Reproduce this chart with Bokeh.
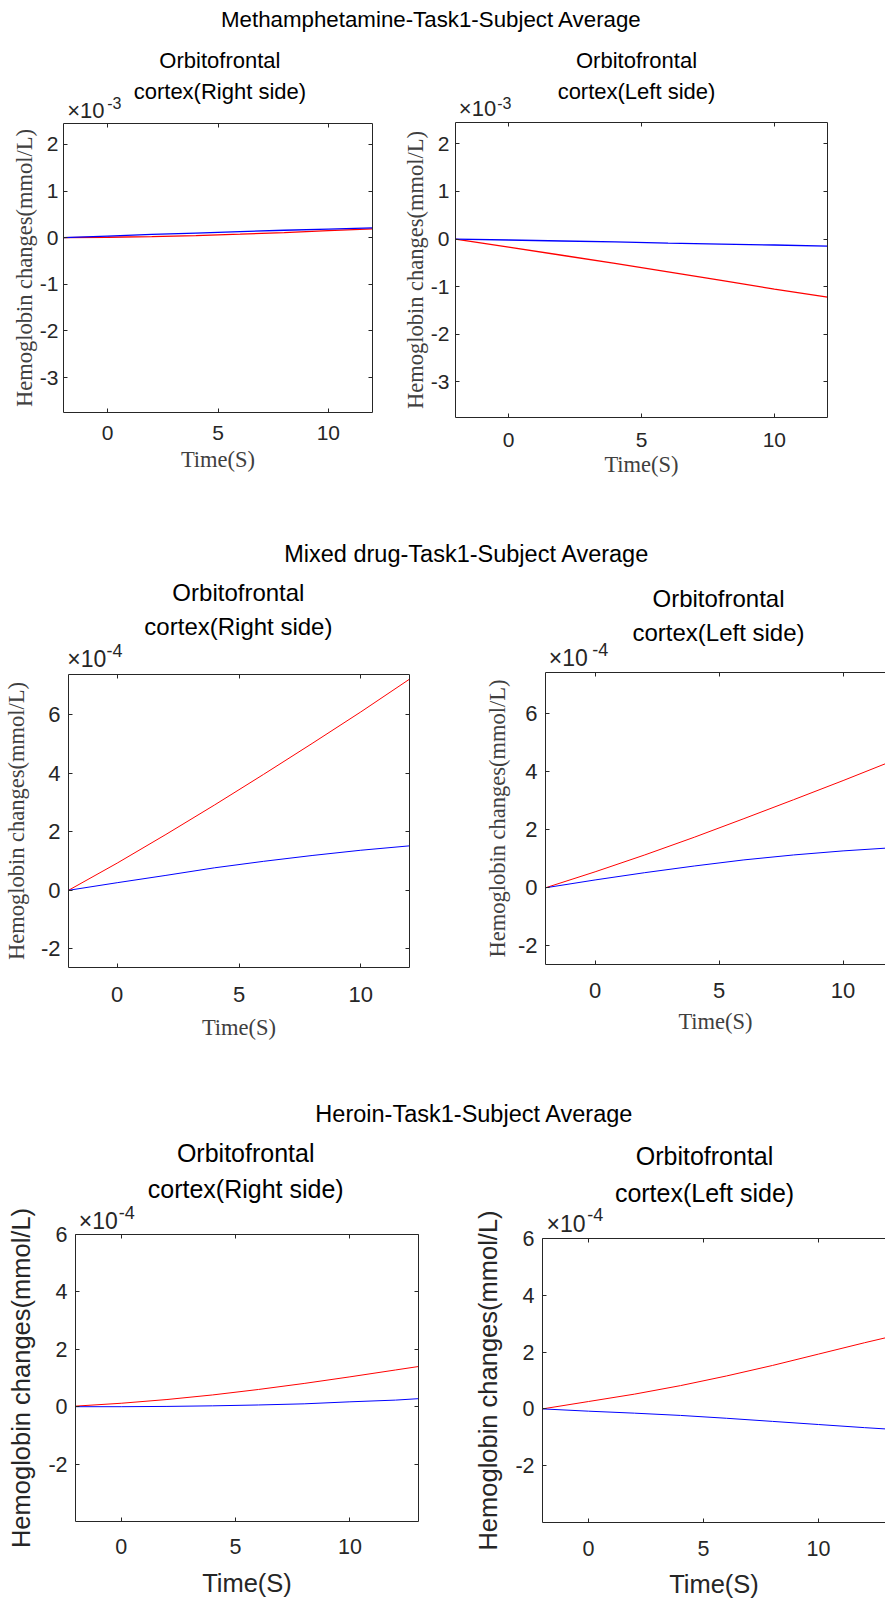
from bokeh.plotting import figure
from bokeh.models import Range1d, FixedTicker, LinearAxis
from bokeh.layouts import column, row
from bokeh.embed import file_html
from bokeh.resources import INLINE
from bokeh.core.properties import value

SANS = "Liberation Sans"
SERIF = "Liberation Serif"
INK = "#262626"
K_MID = 0.3465  # (ascent - descent)/2 in em, to place text by its baseline

# ---------------- data ----------------
time_a = [-2, 0, 2, 4, 6, 8, 10, 12]
time_b = [-2, 0, 2, 4, 6, 8, 10, 12, 13]

# Methamphetamine, values in units of 1e-3 mmol/L
meth_right_red = [0, 0.01, 0.025, 0.045, 0.075, 0.11, 0.15, 0.19]
meth_right_blue = [0, 0.035, 0.07, 0.10, 0.13, 0.16, 0.185, 0.21]
meth_left_red = [0, -0.17, -0.34, -0.51, -0.69, -0.87, -1.05, -1.22]
meth_left_blue = [0, -0.02, -0.04, -0.06, -0.085, -0.105, -0.125, -0.15]

# Mixed drug, values in units of 1e-4 mmol/L
mixed_right_red = [0, 0.93, 1.91, 2.92, 3.96, 5.02, 6.10, 7.22]
mixed_right_blue = [0, 0.26, 0.51, 0.77, 0.99, 1.19, 1.37, 1.52]
mixed_left_red = [0, 0.55, 1.13, 1.74, 2.38, 3.03, 3.69, 4.37]
mixed_left_blue = [0, 0.27, 0.52, 0.75, 0.96, 1.13, 1.27, 1.38]

# Heroin, values in units of 1e-4 mmol/L
heroin_right_red = [0.02, 0.12, 0.25, 0.41, 0.60, 0.81, 1.04, 1.28, 1.40]
heroin_right_blue = [0, 0.0, 0.01, 0.03, 0.06, 0.10, 0.17, 0.23, 0.28]
heroin_left_red = [0, 0.26, 0.52, 0.82, 1.16, 1.53, 1.93, 2.33, 2.52]
heroin_left_blue = [0, -0.08, -0.15, -0.23, -0.33, -0.44, -0.55, -0.66, -0.71]

group_titles = ["Methamphetamine-Task1-Subject Average",
                "Mixed drug-Task1-Subject Average",
                "Heroin-Task1-Subject Average"]
sub_right = ["Orbitofrontal", "cortex(Right side)"]
sub_left = ["Orbitofrontal", "cortex(Left side)"]
y_label = "Hemoglobin changes(mmol/L)"
x_label = "Time(S)"
x_ticks = [0, 5, 10]
y_ticks_meth = [-3, -2, -1, 0, 1, 2]
y_ticks_other = [-2, 0, 2, 4, 6]

# ---------------- layout (page pixel geometry) ----------------
PANELS = [
    dict(x0=0, w=392, y0=119, h=401, fl=63, fr=372, ft=123, fb=412,
         xr=(-2, 12), yr=(-3.75, 2.45), yt=y_ticks_meth,
         t=time_a, red=meth_right_red, blue=meth_right_blue,
         tsz=21, yts=5, xts=13, lf=SERIF, lsz=22.5, lc="#404040",
         yls=0, xls=4, cut=False, lw=1.3),
    dict(x0=392, w=493, y0=119, h=401, fl=455, fr=827, ft=122, fb=417,
         xr=(-2, 12), yr=(-3.75, 2.45), yt=y_ticks_meth,
         t=time_a, red=meth_left_red, blue=meth_left_blue,
         tsz=21, yts=6, xts=15, lf=SERIF, lsz=22.5, lc="#404040",
         yls=0, xls=2, cut=False, lw=1.3),
    dict(x0=0, w=440, y0=669, h=416, fl=62, fr=409, ft=674, fb=967,
         xr=(-2, 12), yr=(-2.64, 7.38), yt=y_ticks_other,
         t=time_a, red=mixed_right_red, blue=mixed_right_blue,
         tsz=22, yts=8, xts=19, lf=SERIF, lsz=22.5, lc="#404040",
         yls=9, xls=10, cut=False, lw=1.0),
    dict(x0=440, w=445, y0=669, h=416, fl=545, fr=885, ft=672, fb=964,
         xr=(-2, 11.71), yr=(-2.64, 7.41), yt=y_ticks_other,
         t=time_a, red=mixed_left_red, blue=mixed_left_blue,
         tsz=22, yts=8, xts=18, lf=SERIF, lsz=22.5, lc="#404040",
         yls=5, xls=8, cut=True, lw=1.0),
    dict(x0=0, w=440, y0=1200, h=400, fl=75, fr=418, ft=1234, fb=1521,
         xr=(-2, 13), yr=(-4, 6), yt=y_ticks_other,
         t=time_b, red=heroin_right_red, blue=heroin_right_blue,
         tsz=21.5, yts=8, xts=17, lf=SANS, lsz=25.5, lc=INK,
         yls=10, xls=12, cut=False, lw=1.0),
    dict(x0=440, w=445, y0=1200, h=400, fl=542, fr=885, ft=1238, fb=1523,
         xr=(-2, 12.91), yr=(-4, 6), yt=y_ticks_other,
         t=time_b, red=heroin_left_red, blue=heroin_left_blue,
         tsz=21.5, yts=8, xts=18, lf=SANS, lsz=25.5, lc=INK,
         yls=10, xls=11, cut=True, lw=1.0),
]

# texts above the frames: (text, x, baseline, size, align, color)
STRIPS = [
    dict(top=0, h=124, items=[
        (group_titles[0], 431, 26.7, 22.3, "center", "black"),
        (sub_right[0], 219.4, 67.7, 22, "center", "black"),
        (sub_right[1], 219.4, 98.3, 22, "center", "black"),
        (sub_left[0], 636, 67.7, 22, "center", "black"),
        (sub_left[1], 636, 98.3, 22, "center", "black"),
        ("\u00d710", 66.7, 117.7, 22, "left", INK),
        ("-3", 106.7, 108.3, 16, "left", INK),
        ("\u00d710", 458.3, 116.0, 22, "left", INK),
        ("-3", 496.7, 108.3, 16, "left", INK),
    ]),
    dict(top=520, h=153, items=[
        (group_titles[1], 466.4, 562, 23.5, "center", "black"),
        (sub_right[0], 237.9, 600.7, 24, "center", "black"),
        (sub_right[1], 237.9, 634.0, 24, "center", "black"),
        (sub_left[0], 718, 606.7, 24, "center", "black"),
        (sub_left[1], 718, 640.7, 24, "center", "black"),
        ("\u00d710", 66.7, 666.7, 23, "left", INK),
        ("-4", 106.0, 656.7, 18, "left", INK),
        ("\u00d710", 548.3, 665.0, 23, "left", INK),
        ("-4", 591.7, 655.0, 18, "left", INK),
    ]),
    dict(top=1085, h=152, items=[
        (group_titles[2], 474, 1121.7, 23.5, "center", "black"),
        (sub_right[0], 245.2, 1161.0, 25, "center", "black"),
        (sub_right[1], 245.2, 1197.3, 25, "center", "black"),
        (sub_left[0], 704, 1164.3, 25, "center", "black"),
        (sub_left[1], 704, 1200.7, 25, "center", "black"),
        ("\u00d710", 78.3, 1228.3, 23, "left", INK),
        ("-4", 118.3, 1218.3, 18, "left", INK),
        ("\u00d710", 546.0, 1231.0, 23, "left", INK),
        ("-4", 586.7, 1220.0, 18, "left", INK),
    ]),
]


def style_axis(ax, ticks, tsz, standoff):
    ax.ticker = FixedTicker(ticks=ticks)
    ax.major_label_overrides = {float(t): "%g" % t for t in ticks}
    ax.minor_tick_line_color = None
    ax.major_tick_in = 4
    ax.major_tick_out = 0
    ax.axis_line_color = INK
    ax.axis_line_width = 1
    ax.major_tick_line_color = INK
    ax.major_label_text_font = SANS
    ax.major_label_text_font_size = f"{tsz}px"
    ax.major_label_text_color = INK
    ax.major_label_standoff = int(standoff)


def blank_axis(ticks):
    ax = LinearAxis(ticker=FixedTicker(ticks=ticks))
    ax.major_label_text_font_size = "0px"
    ax.major_label_text_color = None
    ax.major_label_standoff = 0
    ax.minor_tick_line_color = None
    ax.major_tick_in = 4
    ax.major_tick_out = 0
    ax.axis_line_color = INK
    ax.major_tick_line_color = INK
    return ax


def make_panel(P):
    p = figure(width=P["w"], height=P["h"],
               x_range=Range1d(*P["xr"]), y_range=Range1d(*P["yr"]),
               toolbar_location=None, output_backend="svg", title=None,
               frame_align=False,
               min_border_left=P["fl"] - P["x0"],
               min_border_right=P["x0"] + P["w"] - P["fr"],
               min_border_top=P["ft"] - P["y0"],
               min_border_bottom=P["y0"] + P["h"] - P["fb"],
               background_fill_color="white", border_fill_color=None,
               outline_line_color=None)
    p.xgrid.visible = False
    p.ygrid.visible = False

    xa = p.xaxis[0]
    ya = p.yaxis[0]
    style_axis(xa, x_ticks, P["tsz"], P["xts"])
    style_axis(ya, P["yt"], P["tsz"], P["yts"])
    for ax, lbl, so in ((xa, x_label, P["xls"]), (ya, y_label, P["yls"])):
        ax.axis_label = lbl
        ax.axis_label_text_font = P["lf"]
        ax.axis_label_text_font_size = f"{P['lsz']}px"
        ax.axis_label_text_font_style = "normal"
        ax.axis_label_text_color = P["lc"]
        ax.axis_label_standoff = int(so)

    p.add_layout(blank_axis(x_ticks), "above")
    if not P["cut"]:
        p.add_layout(blank_axis(P["yt"]), "right")

    p.line(P["t"], P["red"], line_color="#ff0000", line_width=P["lw"])
    p.line(P["t"], P["blue"], line_color="#0000ff", line_width=P["lw"])
    return p


def make_strip(S):
    top, h = S["top"], S["h"]
    s = figure(width=885, height=h, x_range=Range1d(0, 885),
               y_range=Range1d(top + h, top),
               toolbar_location=None, output_backend="svg", min_border=0,
               frame_align=False,
               x_axis_type=None, y_axis_type=None, outline_line_color=None, title=None,
               background_fill_color="white", border_fill_color="white")
    for txt, x, base, fs, align, color in S["items"]:
        s.text(x=[x], y=[base - K_MID * fs], text=[txt], text_font=value(SANS),
               text_font_size=f"{fs}px", text_align=align,
               text_baseline="middle", text_color=color)
    return s


panels = [make_panel(P) for P in PANELS]
strips = [make_strip(S) for S in STRIPS]

# each row of panels starts slightly above the end of its text strip, so the
# strip's texts keep their full boxes (the panels' borders are transparent)
row1 = row(panels[0], panels[1], margin=(-5, 0, 0, 0))
row2 = row(panels[2], panels[3], margin=(-4, 0, 0, 0))
row3 = row(panels[4], panels[5], margin=(-37, 0, 0, 0))
root = column(strips[0], row1, strips[1], row2, strips[2], row3)

open("out.html", "w").write(file_html(root, INLINE))
